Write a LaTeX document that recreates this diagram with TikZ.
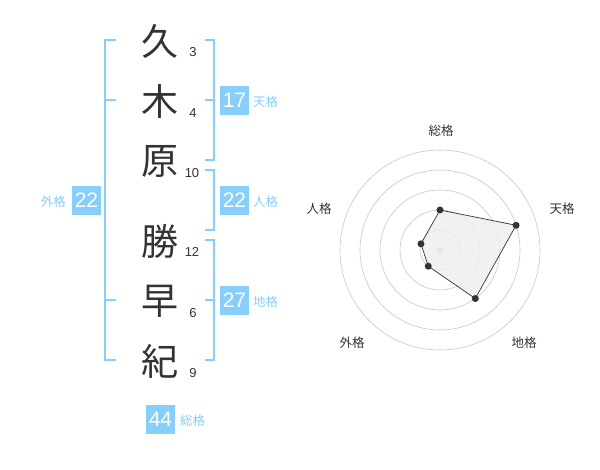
\documentclass[tikz,border=0pt]{standalone}
\usepackage{fontspec}
\setmainfont{Liberation Sans}
\newfontfamily\jp{Noto Sans CJK JP}
\definecolor{sky}{HTML}{87CEFA}
\definecolor{ink}{HTML}{333333}
\begin{document}
\begin{tikzpicture}[x=1pt,y=-1pt,
  kanji/.style={font=\jp\fontsize{37}{37}\selectfont, text=ink, inner sep=0},
  strokes/.style={font=\fontsize{13}{13}\selectfont, text=ink, inner sep=0},
  valbox/.style={fill=sky, text=white, minimum width=29pt, minimum height=29pt, inner sep=0, font=\fontsize{21}{21}\selectfont},
  vlabel/.style={text=sky, font=\jp\fontsize{12.5}{12.5}\selectfont, inner sep=0},
  brk/.style={draw=sky, line width=2pt},
  ring/.style={draw=gray!45, line width=0.6pt},
  axlabel/.style={font=\jp\fontsize{12.5}{12.5}\selectfont, text=ink, inner sep=0},
  dotpt/.style={circle, fill=ink, inner sep=0, minimum size=7pt}
]
\useasboundingbox (0,0) rectangle (600,470);

% name characters
\node[kanji] (k1) at (160,41) {久};
\node[kanji] (k2) at (160,101) {木};
\node[kanji] (k3) at (160,161) {原};
\node[kanji] (k4) at (160,241) {勝};
\node[kanji] (k5) at (160,301) {早};
\node[kanji] (k6) at (160,361) {紀};
% stroke counts
\node[strokes] (n1) at (193,52) {3};
\node[strokes] (n2) at (193,113) {4};
\node[strokes] (n3) at (192,173) {10};
\node[strokes] (n4) at (192,252) {12};
\node[strokes] (n5) at (193,313) {6};
\node[strokes] (n6) at (193,373) {9};

% brackets
\draw[brk] (116,40) -- (105,40) -- (105,360) -- (116,360);
\draw[brk] (105,100) -- (116,100);
\draw[brk] (105,300) -- (116,300);
\draw[brk] (205,40) -- (214,40) -- (214,160) -- (205,160);
\draw[brk] (205,100) -- (214,100);
\draw[brk] (205,170) -- (214,170) -- (214,230) -- (205,230);
\draw[brk] (205,240) -- (214,240) -- (214,360) -- (205,360);
\draw[brk] (205,300) -- (214,300);

% value boxes
\node[valbox] (ten) at (234.5,100.5) {17};
\node[vlabel, anchor=west] (tenl) at (253,102) {天格};
\node[valbox] (jin) at (234.5,200.5) {22};
\node[vlabel, anchor=west] (jinl) at (253,202) {人格};
\node[valbox] (chi) at (234.5,300.5) {27};
\node[vlabel, anchor=west] (chil) at (253,302) {地格};
\node[valbox] (gai) at (86.5,200.5) {22};
\node[vlabel, anchor=east] (gail) at (66,202) {外格};
\node[valbox] (sou) at (160.5,419) {44};
\node[vlabel, anchor=west] (soul) at (180,421) {総格};

% radar
\begin{scope}[shift={(440,250)}]
  \foreach \r in {20,40,60,80,100} \draw[ring] (0,0) circle (\r);
  \fill[gray!45] (0,0) circle (3.5);
  \coordinate (ps) at (-90:40);
  \coordinate (pt) at (-18:80);
  \coordinate (pc) at (54:60);
  \coordinate (pg) at (126:20);
  \coordinate (pj) at (198:20);
  \draw[draw=ink, fill=gray!13, fill opacity=0.85, line width=0.7pt] (ps) -- (pt) -- (pc) -- (pg) -- (pj) -- cycle;
  \node[dotpt] (ds) at (ps) {};
  \node[dotpt] (dt) at (pt) {};
  \node[dotpt] (dc) at (pc) {};
  \node[dotpt] (dg) at (pg) {};
  \node[dotpt] (dj) at (pj) {};
\end{scope}
\node[axlabel] (as) at (441,131) {総格};
\node[axlabel] (at) at (562,209) {天格};
\node[axlabel] (ac) at (524,343) {地格};
\node[axlabel] (ag) at (352,343) {外格};
\node[axlabel] (aj) at (319,209) {人格};
\end{tikzpicture}
\end{document}
